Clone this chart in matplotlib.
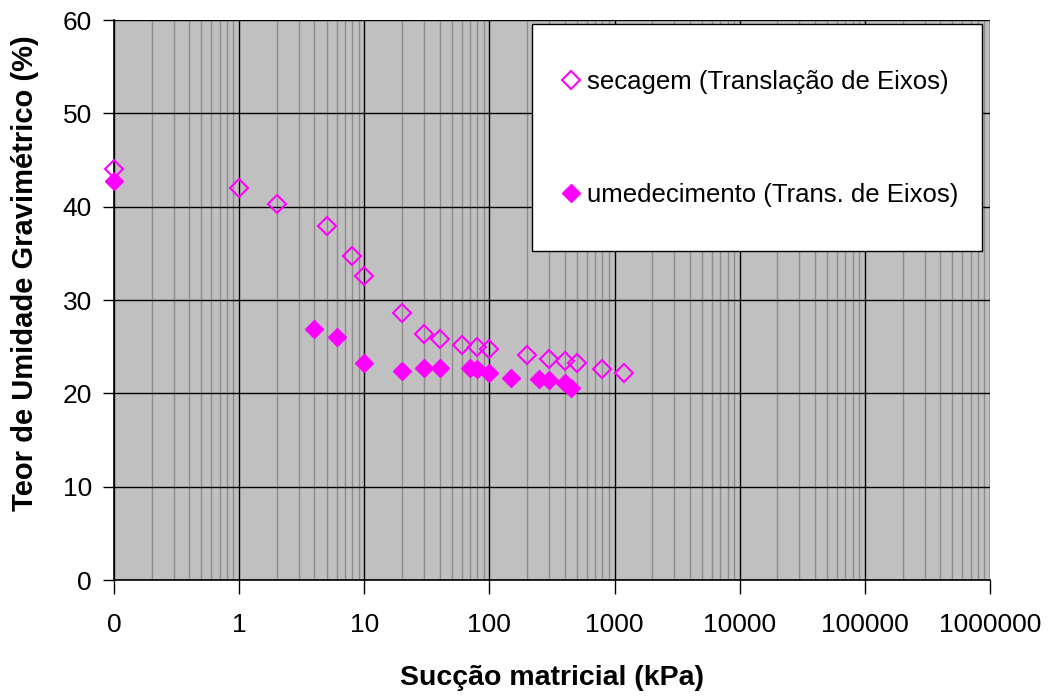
import matplotlib.pyplot as plt
from matplotlib.patches import Rectangle
from matplotlib.ticker import FixedLocator, FixedFormatter, LogLocator, NullFormatter

plt.rcParams['font.family'] = ['Liberation Sans', 'DejaVu Sans']

# secagem (translação de eixos)
suc_sec = [0.1, 1, 2, 5, 8, 10, 20, 30, 40, 60, 80, 100, 200, 300, 400, 500, 800, 1200]
w_sec = [44.0, 42.0, 40.3, 37.9, 34.7, 32.6, 28.6, 26.4, 25.8, 25.2, 25.0, 24.7,
         24.1, 23.7, 23.5, 23.3, 22.6, 22.2]

# umedecimento (translação de eixos)
suc_ume = [0.1, 4, 6, 10, 20, 30, 40, 70, 80, 100, 150, 250, 300, 400, 450]
w_ume = [42.8, 26.9, 26.0, 23.3, 22.4, 22.7, 22.7, 22.7, 22.6, 22.2, 21.6, 21.5,
         21.4, 21.1, 20.6]

xticks = [0.1, 1, 10, 100, 1000, 10000, 100000, 1000000]
xticklabels = ['0', '1', '10', '100', '1000', '10000', '100000', '1000000']
yticks = [0, 10, 20, 30, 40, 50, 60]

fig = plt.figure(figsize=(10.52, 6.96), dpi=100)
ax = fig.add_axes([114 / 1052, 1 - 580 / 696, 876 / 1052, 560 / 696])
ax.set_facecolor('#c0c0c0')

ax.set_xscale('log')
ax.set_xlim(0.1, 1e6)
ax.set_ylim(0, 60)

ax.xaxis.set_major_locator(FixedLocator(xticks))
ax.xaxis.set_major_formatter(FixedFormatter(xticklabels))
ax.xaxis.set_minor_locator(LogLocator(base=10, subs=range(2, 10), numticks=20))
ax.xaxis.set_minor_formatter(NullFormatter())
ax.set_yticks(yticks)

ax.grid(which='major', axis='both', color='black', linewidth=1.0)
ax.grid(which='minor', axis='x', color='#8c8c8c', linewidth=1.0)
ax.set_axisbelow(True)

ax.plot(suc_sec, w_sec, linestyle='none', marker='D', markersize=8.8,
        markerfacecolor='none', markeredgecolor='#ff00ff', markeredgewidth=1.5,
        label='secagem (Translação de Eixos)', clip_on=False, zorder=3)
ax.plot(suc_ume, w_ume, linestyle='none', marker='D', markersize=8.8,
        markerfacecolor='#ff00ff', markeredgecolor='#ff00ff', markeredgewidth=1.0,
        label='umedecimento (Trans. de Eixos)', clip_on=False, zorder=3)

for side in ['top', 'right']:
    ax.spines[side].set_visible(False)
for side in ['left', 'bottom']:
    ax.spines[side].set_color('black')
    ax.spines[side].set_linewidth(1.2)

ax.tick_params(axis='x', which='major', direction='out', length=10, width=1,
               labelsize=19, pad=14)
ax.tick_params(axis='x', which='minor', length=0)
ax.tick_params(axis='y', which='major', direction='out', length=8, width=1,
               labelsize=19, pad=8)

ax.set_xlabel('Sucção matricial (kPa)', fontsize=20.5, fontweight='bold', labelpad=20)
ax.set_ylabel('Teor de Umidade Gravimétrico (%)', fontsize=21, fontweight='bold')
ax.yaxis.set_label_coords(-0.086, 0.548)

# legend box
box = Rectangle((418 / 876, 329 / 560), 450 / 876, 227 / 560, transform=ax.transAxes,
                facecolor='white', edgecolor='black', linewidth=1.0, zorder=4,
                clip_on=False)
ax.add_patch(box)

leg = ax.legend(loc='upper left', bbox_to_anchor=(447 / 876, 1 - 50 / 560),
                fontsize=18.5, frameon=False, borderpad=0, borderaxespad=0,
                labelspacing=3.45, handletextpad=0.2, handlelength=0.8)
leg.set_zorder(5)

fig.savefig('out.png', dpi=100)
